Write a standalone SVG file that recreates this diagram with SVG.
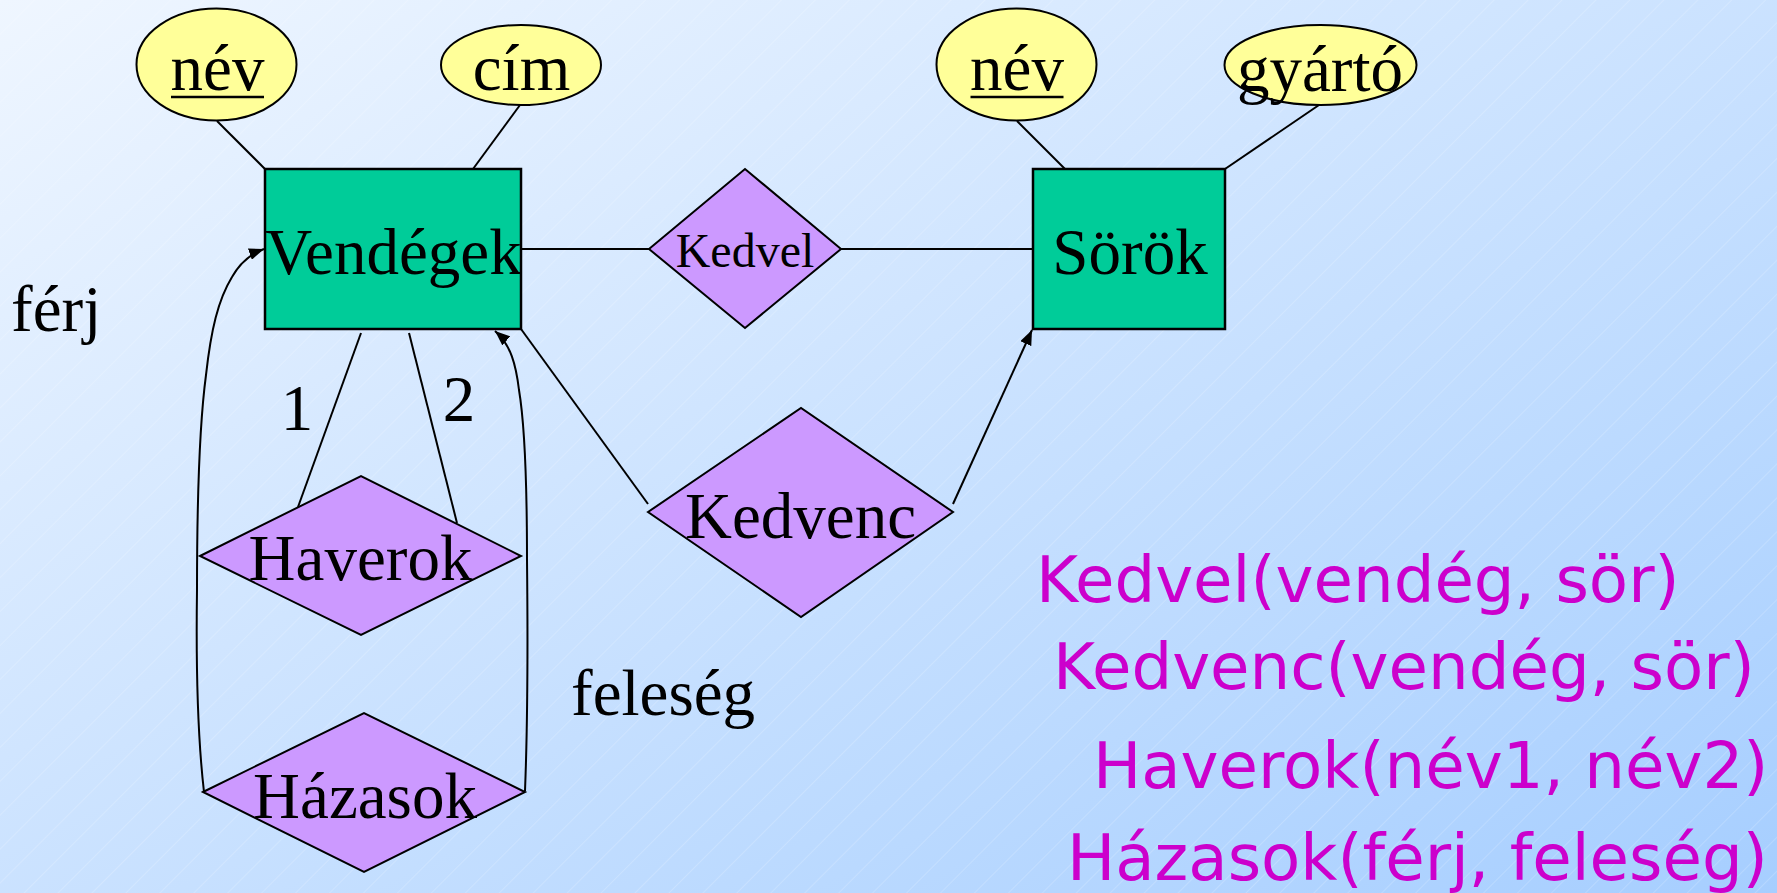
<svg xmlns="http://www.w3.org/2000/svg" width="1777" height="893" viewBox="0 0 1777 893">
  <defs>
    <linearGradient id="bg" x1="0" y1="0" x2="1" y2="1">
      <stop offset="0" stop-color="#EFF6FF"/>
      <stop offset="1" stop-color="#A6CEFF"/>
    </linearGradient>
    <pattern id="hatch" width="24" height="24" patternUnits="userSpaceOnUse" patternTransform="rotate(45)">
      <line x1="0" y1="0" x2="0" y2="24" stroke="#FFFFFF" stroke-width="1" stroke-opacity="0.35"/>
    </pattern>
    <marker id="arrow" markerUnits="userSpaceOnUse" markerWidth="16" markerHeight="12" refX="15" refY="6" orient="auto">
      <path d="M0,0 L15,6 L0,12 Z" fill="#000"/>
    </marker>
    <style>
      .entity { fill: #00CC99; stroke: #000; stroke-width: 2.5; }
      .attr { fill: #FFFF99; stroke: #000; stroke-width: 2; }
      .rel { fill: #CC99FF; stroke: #000; stroke-width: 2; }
      .edge { fill: none; stroke: #000; stroke-width: 2; }
      .uline { stroke: #000; stroke-width: 2.5; }
      .serif { font-family: "Liberation Serif", "Times New Roman", serif; font-size: 65px; fill: #000; }
      .schema { font-family: "DejaVu Sans", Verdana, sans-serif; font-size: 64.2px; fill: #CC00CC; }
    </style>
  </defs>

  <!-- background -->
  <rect x="0" y="0" width="1777" height="893" fill="url(#bg)"/>
  <rect x="0" y="0" width="1777" height="893" fill="url(#hatch)"/>

  <!-- connectors -->
  <g id="connectors">
    <line class="edge" x1="217" y1="121" x2="265" y2="169"/>
    <line class="edge" x1="520" y1="105" x2="473" y2="169"/>
    <line class="edge" x1="1017" y1="121" x2="1065" y2="169"/>
    <line class="edge" x1="1319" y1="105" x2="1225" y2="169"/>
    <line class="edge" x1="521" y1="249" x2="649" y2="249"/>
    <line class="edge" x1="841" y1="249" x2="1033" y2="249"/>
    <line class="edge" x1="361" y1="333" x2="298" y2="507"/>
    <line class="edge" x1="409" y1="333" x2="457" y2="523"/>
    <line class="edge" x1="521" y1="329" x2="648" y2="504"/>
    <line class="edge" x1="953" y1="504" x2="1032" y2="330" marker-end="url(#arrow)"/>
    <path class="edge" d="M204,792 C198,740 196,660 197,590 C197,500 200,420 206,375 C211,330 218,300 232,277 C240,263 250,254 264,249" marker-end="url(#arrow)"/>
    <path class="edge" d="M525,791 C527,740 528,650 527,560 C527,480 524,420 519,390 C516,365 511,345 495,331" marker-end="url(#arrow)"/>
  </g>

  <!-- entities -->
  <g id="vendegek">
    <rect class="entity" x="265" y="169" width="256" height="160"/>
    <text class="serif" x="393.5" y="274" text-anchor="middle">Vendégek</text>
  </g>
  <g id="sorok">
    <rect class="entity" x="1033" y="169" width="192" height="160"/>
    <text class="serif" x="1130" y="274" text-anchor="middle">Sörök</text>
  </g>

  <!-- attributes -->
  <g id="vendegek-nev">
    <ellipse class="attr" cx="216.5" cy="64.5" rx="80" ry="56"/>
    <text class="serif" x="217.5" y="90" text-anchor="middle">név</text>
    <line class="uline" x1="171" y1="97" x2="264" y2="97"/>
  </g>
  <g id="vendegek-cim">
    <ellipse class="attr" cx="521" cy="65" rx="80" ry="40"/>
    <text class="serif" x="521.5" y="90" text-anchor="middle">cím</text>
  </g>
  <g id="sorok-nev">
    <ellipse class="attr" cx="1016.5" cy="64.5" rx="80" ry="56"/>
    <text class="serif" x="1017" y="90" text-anchor="middle">név</text>
    <line class="uline" x1="970.5" y1="97" x2="1063.5" y2="97"/>
  </g>
  <g id="sorok-gyarto">
    <ellipse class="attr" cx="1320.5" cy="65" rx="96" ry="40"/>
    <text class="serif" x="1320" y="90.5" text-anchor="middle">gyártó</text>
  </g>

  <!-- relationships -->
  <g id="kedvel">
    <polygon class="rel" points="649,249 745,169 841,249 745,328"/>
    <text class="serif" x="745" y="267" text-anchor="middle" style="font-size:48px">Kedvel</text>
  </g>
  <g id="kedvenc">
    <polygon class="rel" points="648,512 801,408 953,512 801,617"/>
    <text class="serif" x="800.5" y="538" text-anchor="middle">Kedvenc</text>
  </g>
  <g id="haverok">
    <polygon class="rel" points="200,556 361,476 521,556 361,635"/>
    <text class="serif" x="360.5" y="580" text-anchor="middle">Haverok</text>
  </g>
  <g id="hazasok">
    <polygon class="rel" points="203,792 364,713 525,792 364,872"/>
    <text class="serif" x="365" y="818" text-anchor="middle">Házasok</text>
  </g>

  <!-- role labels -->
  <g id="role-labels">
    <text class="serif" x="11" y="331">férj</text>
    <text class="serif" x="571" y="715">feleség</text>
    <text class="serif" x="297" y="430" text-anchor="middle">1</text>
    <text class="serif" x="459" y="421" text-anchor="middle">2</text>
  </g>

  <!-- relational schema -->
  <g id="schema">
    <text class="schema" x="1036" y="602">Kedvel(vendég, sör)</text>
    <text class="schema" x="1053" y="689">Kedvenc(vendég, sör)</text>
    <text class="schema" x="1093" y="788">Haverok(név1, név2)</text>
    <text class="schema" x="1067" y="880">Házasok(férj, feleség)</text>
  </g>
</svg>
